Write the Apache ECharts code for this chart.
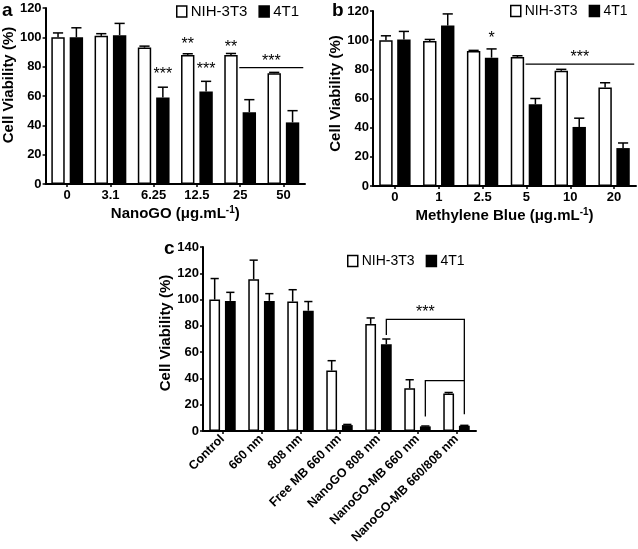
<!DOCTYPE html>
<html><head><meta charset="utf-8">
<script src="https://cdn.jsdelivr.net/npm/echarts/dist/echarts.min.js"></script>
<style>html,body{margin:0;padding:0;background:#fff}#c{width:638px;height:549px}</style>
</head><body><div id="c"></div>
<script>
// ---------- data ----------
const catsA = ['0', '3.1', '6.25', '12.5', '25', '50'];
const nihA = [100, 101, 93, 88, 88, 75.5];
const nihSdA = [3, 1.5, 1, 0.8, 1, 0.6];
const t1A = [100, 101.5, 59, 63, 49, 42];
const t1SdA = [6.5, 8, 7, 7, 8.5, 8];

const catsB = ['0', '1', '2.5', '5', '10', '20'];
const nihB = [100, 99.5, 92.5, 88.5, 79, 67.5];
const nihSdB = [3, 1, 0.5, 0.8, 1, 3.3];
const t1B = [100.5, 110, 88, 56, 40.5, 26];
const t1SdB = [5.5, 8, 6, 4, 6, 3.5];

const catsC = ['Control', '660 nm', '808 nm', 'Free MB 660 nm', 'NanoGO 808 nm', 'NanoGO-MB 660 nm', 'NanoGO-MB 660/808 nm'];
const nihC = [100, 115.5, 98.5, 46, 81.5, 32.5, 28.5];
const nihSdC = [16, 14.5, 9, 7.5, 4.5, 6.5, 0.8];
const t1C = [99, 99, 91.5, 4.5, 66, 3.5, 4];
const t1SdC = [6.5, 5.5, 7, 0.5, 4, 0.3, 0.3];

const seriesNames = ['NIH-3T3', '4T1'];
const yTicksAB = [0, 120, 20];   // min, max, step
const yTicksC = [0, 140, 20];

// significance marks: [category, series, value, text]
const starsA = [['6.25', '4T1', 77, '***'], ['12.5', 'NIH-3T3', 97.5, '**'], ['12.5', '4T1', 80.5, '***'], ['25', 'NIH-3T3', 95.5, '**']];
const spanA = ['25', '50', 79.3, 86, '***'];   // from category, to category, line value, text value, text
const starsB = [['2.5', '4T1', 104, '*']];
const spanB = ['5', '20', 83.6, 90.5, '***'];
// bracket in c: outer [from cat, to cat, top value, left foot value, right foot value], inner [from cat, value, foot value], text value
const bracketOuterC = ['NanoGO 808 nm', 'NanoGO-MB 660/808 nm', 85, 73, 12.7];
const bracketInnerC = ['NanoGO-MB 660 nm', 38.3, 11];
const bracketTextC = [93.5, '***'];

// ---------- styling ----------
const F = '"Liberation Sans", Arial, sans-serif';
const BLK = '#000';
const geo = [
  {w: 13.4, g: 0.37},
  {w: 13.4, g: 0.34},
  {w: 10.8, g: 0.45}
];
function sideOff(i, side) { return (side === '4T1' ? 1 : -1) * geo[i].w * (1 + geo[i].g) / 2; }

function yAxis(i, t, nameGap, pad) {
  return {
    type: 'value', gridIndex: i, min: t[0], max: t[1], interval: t[2],
    splitLine: {show: false},
    axisLine: {show: true, lineStyle: {color: BLK, width: 2}},
    axisTick: {show: true, length: 3, lineStyle: {color: BLK, width: 1.5}},
    axisLabel: {color: BLK, fontFamily: F, fontWeight: 'bold', fontSize: 13, margin: 4},
    name: 'Cell Viability (%)', nameLocation: 'middle', nameGap: nameGap,
    nameTextStyle: {color: BLK, fontFamily: F, fontWeight: 'bold', fontSize: 15, padding: pad}
  };
}
function xAxis(i, cats, name, extra) {
  const ax = {
    type: 'category', gridIndex: i, data: cats,
    axisLine: {show: true, lineStyle: {color: BLK, width: 2}},
    axisTick: {show: true, alignWithLabel: true, length: 3, lineStyle: {color: BLK, width: 1.5}},
    axisLabel: {color: BLK, fontFamily: F, fontWeight: 'bold', fontSize: 13, margin: 5, interval: 0},
  };
  if (name) {
    ax.name = name; ax.nameLocation = 'middle'; ax.nameGap = 21;
    ax.nameTextStyle = {rich: {
      n: {fontFamily: F, fontWeight: 'bold', fontSize: 15, color: BLK, lineHeight: 18},
      s: {fontFamily: F, fontWeight: 'bold', fontSize: 10, color: BLK, verticalAlign: 'top', lineHeight: 10}
    }};
  }
  return Object.assign(ax, extra || {});
}
function bars(i, name, vals) {
  const white = name === 'NIH-3T3';
  return {
    type: 'bar', name: name, xAxisIndex: i, yAxisIndex: i, data: vals,
    barWidth: geo[i].w, barGap: (geo[i].g * 100) + '%',
    itemStyle: white ? {color: '#fff', borderColor: BLK, borderWidth: 1.5} : {color: BLK, borderColor: BLK, borderWidth: 0},
    emphasis: {disabled: true}, z: 2
  };
}
function errs(i, name, vals, sds) {
  return {
    type: 'custom', xAxisIndex: i, yAxisIndex: i, silent: true, z: 3,
    data: vals.map((v, k) => [k, v, sds[k]]),
    renderItem: function (params, api) {
      const k = api.value(0), v = api.value(1), s = api.value(2);
      const b = api.coord([k, v]), t = api.coord([k, v + s]);
      const x = b[0] + sideOff(i, name);
      const cap = geo[i].w * 0.38;
      const st = {stroke: BLK, lineWidth: 1.5};
      return {type: 'group', children: [
        {type: 'line', shape: {x1: x, y1: b[1], x2: x, y2: t[1]}, style: st},
        {type: 'line', shape: {x1: x - cap, y1: t[1], x2: x + cap, y2: t[1]}, style: st}
      ]};
    }
  };
}
function starText(x, y, txt) {
  return {type: 'text', x: x, y: y + 4, style: {text: txt, font: '16px ' + F, fill: BLK, align: 'center', verticalAlign: 'middle'}};
}
function marks(i, cats, stars, span) {
  return {
    type: 'custom', xAxisIndex: i, yAxisIndex: i, silent: true, z: 4,
    data: [[0, 0]],
    renderItem: function (params, api) {
      const band = api.size([1, 0])[0];
      const ch = [];
      stars.forEach(function (s) {
        const p = api.coord([cats.indexOf(s[0]), s[2]]);
        ch.push(starText(p[0] + sideOff(i, s[1]), p[1], s[3]));
      });
      if (span) {
        const a = api.coord([cats.indexOf(span[0]), span[2]]);
        const b = api.coord([cats.indexOf(span[1]), span[2]]);
        const x1 = a[0] - band * 0.02, x2 = b[0] + band * 0.46;
        ch.push({type: 'line', shape: {x1: x1, y1: a[1], x2: x2, y2: a[1]}, style: {stroke: BLK, lineWidth: 1.3}});
        const ty = api.coord([0, span[3]])[1];
        ch.push(starText((x1 + x2) / 2, ty, span[4]));
      }
      return {type: 'group', children: ch};
    }
  };
}
function bracketC() {
  return {
    type: 'custom', xAxisIndex: 2, yAxisIndex: 2, silent: true, z: 4,
    data: [[0, 0]],
    renderItem: function (params, api) {
      const o = bracketOuterC, n = bracketInnerC;
      const xl = api.coord([catsC.indexOf(o[0]), 0])[0] + sideOff(2, '4T1');
      const xr = api.coord([catsC.indexOf(o[1]), 0])[0] + sideOff(2, '4T1');
      const xm = api.coord([catsC.indexOf(n[0]), 0])[0] + sideOff(2, '4T1');
      const Y = v => api.coord([0, v])[1];
      const st = {stroke: BLK, lineWidth: 1.3, fill: null};
      return {type: 'group', children: [
        {type: 'polyline', shape: {points: [[xl, Y(o[3])], [xl, Y(o[2])], [xr, Y(o[2])], [xr, Y(o[4])]]}, style: st},
        {type: 'polyline', shape: {points: [[xm, Y(n[2])], [xm, Y(n[1])], [xr, Y(n[1])]]}, style: st},
        starText((xl + xr) / 2, Y(bracketTextC[0]), bracketTextC[1])
      ]};
    }
  };
}
function legend(left, top, fs) {
  return {
    left: left, top: top, padding: 0, itemWidth: 10, itemHeight: 11, itemGap: 11, itemStyle: {borderWidth: 1.5, borderColor: BLK},
    icon: 'rect', selectedMode: false, data: seriesNames,
    textStyle: {fontFamily: F, fontSize: fs, color: BLK, padding: [0, 0, 0, -1]}
  };
}

const option = {
  animation: false,
  backgroundColor: '#fff',
  grid: [
    {left: 41, top: 8, width: 264, height: 176},
    {left: 373, top: 11, width: 263, height: 175},
    {left: 203, top: 247, width: 273, height: 184}
  ],
  legend: [legend(176, 4, 15), legend(510, 4, 14), legend(347, 254, 14)],
  xAxis: [
    xAxis(0, catsA, '{n|NanoGO (μg.mL}{s|-1}{n|)}'),
    xAxis(1, catsB, '{n|Methylene Blue (μg.mL}{s|-1}{n|)}'),
    xAxis(2, catsC, null, {axisLabel: {color: BLK, fontFamily: F, fontWeight: 'bold', fontSize: 12.5, margin: 6, interval: 0, rotate: 45}})
  ],
  yAxis: [yAxis(0, yTicksAB, 22, [0, 0, 0, 22]), yAxis(1, yTicksAB, 27, [0, 0, 0, 10]), yAxis(2, yTicksC, 26, [0, 0, 0, 12])],
  series: [
    bars(0, 'NIH-3T3', nihA), bars(0, '4T1', t1A), errs(0, 'NIH-3T3', nihA, nihSdA), errs(0, '4T1', t1A, t1SdA), marks(0, catsA, starsA, spanA),
    bars(1, 'NIH-3T3', nihB), bars(1, '4T1', t1B), errs(1, 'NIH-3T3', nihB, nihSdB), errs(1, '4T1', t1B, t1SdB), marks(1, catsB, starsB, spanB),
    bars(2, 'NIH-3T3', nihC), bars(2, '4T1', t1C), errs(2, 'NIH-3T3', nihC, nihSdC), errs(2, '4T1', t1C, t1SdC), bracketC()
  ],
  graphic: [
    {type: 'text', left: 2, top: 1, style: {text: 'a', font: 'bold 19px ' + F, fill: BLK}},
    {type: 'text', left: 332, top: 1, style: {text: 'b', font: 'bold 19px ' + F, fill: BLK}},
    {type: 'text', left: 164, top: 239, style: {text: 'c', font: 'bold 19px ' + F, fill: BLK}}
  ]
};
const chart = echarts.init(document.getElementById('c'), null, {renderer: 'canvas'});
chart.setOption(option);
</script>
</body></html>
